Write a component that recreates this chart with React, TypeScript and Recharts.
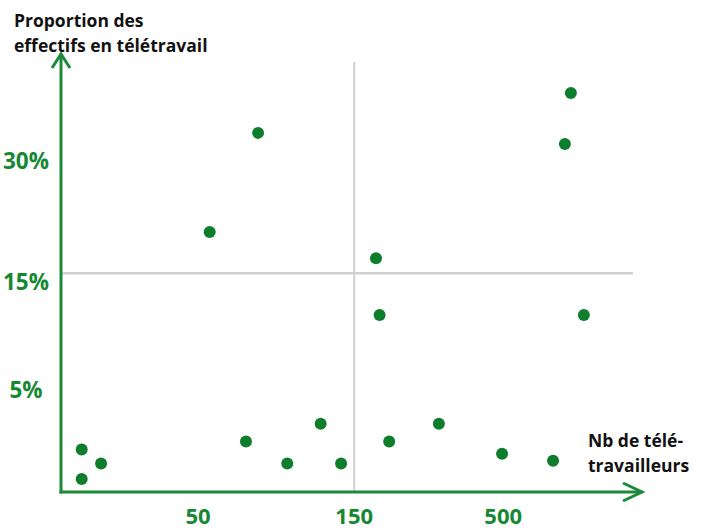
import React from 'react';
import { ScatterChart, Scatter, XAxis, YAxis, ReferenceLine } from 'recharts';

// ---- data ----
const X_TICKS = [50, 150, 500];
const Y_TICKS = [5, 15, 30];
const TELEWORKERS = [24, 24, 27, 54, 69, 75, 92, 117, 136, 177, 182, 196, 291, 495, 780, 870, 920, 1040];
const SHARE_PCT = [1.3, 0.2, 0.7, 20.8, 1.7, 34.0, 0.7, 2.7, 0.7, 17.7, 11.6, 1.7, 2.7, 1.1, 0.8, 32.4, 39.9, 11.6];
const X_REF = 150;
const Y_REF = 16;
const X_DOMAIN = [21.2, 1680];
const Y_DOMAIN = [0, 44.7];
const X_EXP = -0.12; // non-linear (power) axis
const Y_EXP = 0.66;

const Y_TITLE = ['Proportion des', 'effectifs en télétravail'];
const X_TITLE = ['Nb de télé-', 'travailleurs'];

// ---- transforms for the non-linear axes ----
const pw = (v: number, k: number) => (k === 0 ? Math.log(v) : (Math.pow(v, k) - 1) / k);
const tx = (v: number) => pw(v, X_EXP);
const ty = (v: number) => Math.pow(v, Y_EXP);

const data = TELEWORKERS.map((n, i) => ({ n, p: SHARE_PCT[i], tx: tx(n), ty: ty(SHARE_PCT[i]) }));

// ---- layout ----
const W = 703;
const H = 532;
const MARGIN = { top: 62, right: 70, bottom: 0, left: 0 };
const Y_W = 61;
const X_H = 41;
const PLOT_LEFT = MARGIN.left + Y_W;
const PLOT_RIGHT = W - MARGIN.right;
const PLOT_TOP = MARGIN.top;
const PLOT_BOTTOM = H - MARGIN.bottom - X_H;

const GREEN_DOT = '#0e7e2d';
const GREEN_AXIS = '#1c8a38';
const GREEN_TEXT = '#168834';
const GRAY = '#d0d0d0';
const FONT = '"Open Sans", "Noto Sans", sans-serif';
const NOLIG: React.CSSProperties = { fontVariantLigatures: 'none', fontFeatureSettings: '"liga" 0' };

const nearest = (ticks: number[], f: (v: number) => number, value: number) => {
  let best = ticks[0];
  let bd = Infinity;
  ticks.forEach((t) => {
    const d = Math.abs(f(t) - value);
    if (d < bd) {
      bd = d;
      best = t;
    }
  });
  return best;
};

const XTick = (props: any) => {
  const { x, y, payload } = props;
  const label = nearest(X_TICKS, tx, payload.value);
  return (
    <text x={x} y={y} dy={33} textAnchor="middle" fill={GREEN_TEXT} fontFamily={FONT} fontWeight={700} fontSize={22}>
      {label}
    </text>
  );
};

const YTick = (props: any) => {
  const { y, payload } = props;
  const label = nearest(Y_TICKS, ty, payload.value);
  return (
    <text x={26} y={y} dy="0.34em" textAnchor="middle" fill={GREEN_TEXT} fontFamily={FONT} fontWeight={700} fontSize={22.5}>
      {label}%
    </text>
  );
};

const Dot = (props: any) => <circle cx={props.cx} cy={props.cy} r={6} fill={GREEN_DOT} />;

export default function App() {
  const axisY = PLOT_BOTTOM + 1;
  return (
    <div style={{ position: 'absolute', left: 0, top: 0, width: W, height: H, background: '#fff' }}>
      <ScatterChart width={W} height={H} margin={MARGIN}>
        <XAxis
          type="number"
          dataKey="tx"
          domain={[tx(X_DOMAIN[0]), tx(X_DOMAIN[1])]}
          allowDataOverflow
          ticks={X_TICKS.map(tx)}
          tick={<XTick />}
          axisLine={false}
          tickLine={false}
          tickSize={0}
          tickMargin={0}
          height={X_H}
          interval={0}
        />
        <YAxis
          type="number"
          dataKey="ty"
          domain={[ty(Y_DOMAIN[0]), ty(Y_DOMAIN[1])]}
          allowDataOverflow
          ticks={Y_TICKS.map(ty)}
          tick={<YTick />}
          axisLine={false}
          tickLine={false}
          tickSize={0}
          width={Y_W}
          interval={0}
        />
        <ReferenceLine x={tx(X_REF)} stroke={GRAY} strokeWidth={2} />
        <ReferenceLine y={ty(Y_REF)} stroke={GRAY} strokeWidth={2.5} />
        <Scatter data={data} shape={<Dot />} isAnimationActive={false} />
      </ScatterChart>
      <svg width={W} height={H} style={{ position: 'absolute', left: 0, top: 0, pointerEvents: 'none' }}>
        <g stroke={GREEN_AXIS} strokeWidth={3} fill="none" strokeLinecap="square">
          <line x1={PLOT_LEFT} y1={axisY} x2={PLOT_LEFT} y2={PLOT_TOP - 7} />
          <polyline points={`${PLOT_LEFT - 9},${PLOT_TOP + 6} ${PLOT_LEFT},${PLOT_TOP - 8} ${PLOT_LEFT + 9},${PLOT_TOP + 6}`} strokeLinecap="butt" />
          <line x1={PLOT_LEFT} y1={axisY} x2={PLOT_RIGHT + 8} y2={axisY} />
          <polyline points={`${PLOT_RIGHT - 10},${axisY - 9} ${PLOT_RIGHT + 9},${axisY} ${PLOT_RIGHT - 10},${axisY + 9}`} strokeLinecap="butt" />
        </g>
        <g fill="#111" fontFamily={FONT} fontWeight={700} fontSize={17.5} style={NOLIG}>
          <text x={14} y={27}>{Y_TITLE[0]}</text>
          <text x={14} y={52}>{Y_TITLE[1]}</text>
          <text x={588} y={447}>{X_TITLE[0]}</text>
          <text x={588} y={472}>{X_TITLE[1]}</text>
        </g>
      </svg>
    </div>
  );
}
